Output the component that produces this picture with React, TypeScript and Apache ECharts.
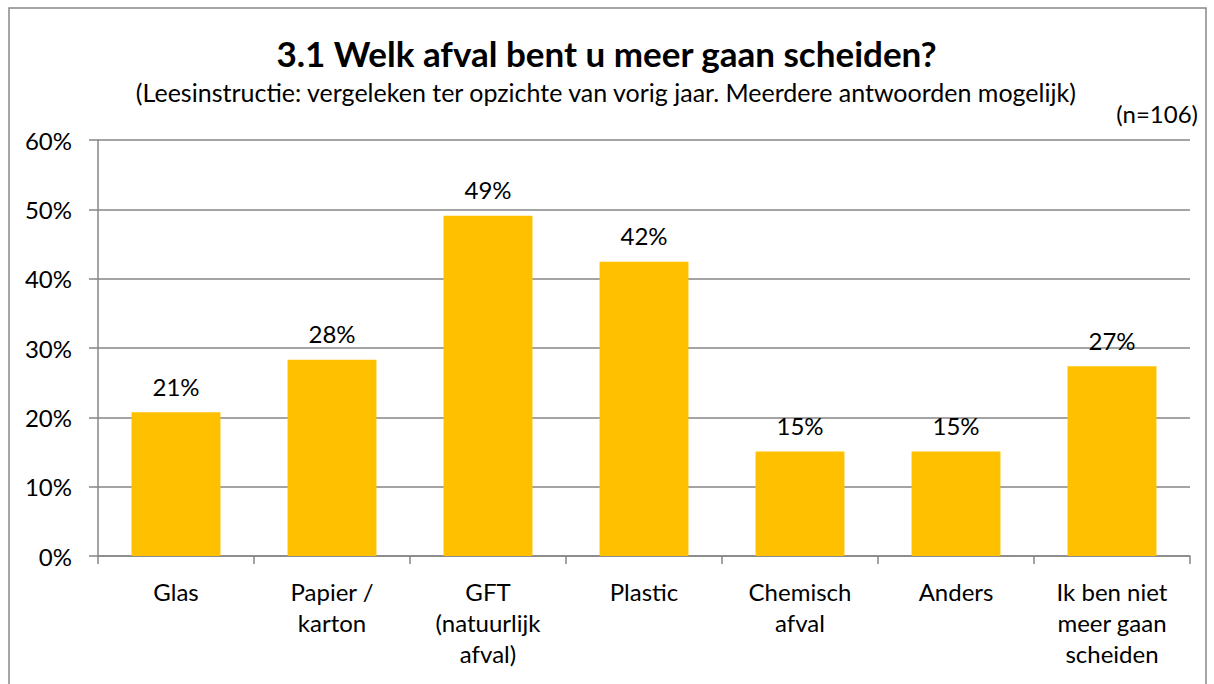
import React, { useEffect, useRef } from "react";
import * as echarts from "echarts";

const categories = [
  "Glas",
  "Papier /\nkarton",
  "GFT\n(natuurlijk\nafval)",
  "Plastic",
  "Chemisch\nafval",
  "Anders",
  "Ik ben niet\nmeer gaan\nscheiden",
];
const values = [20.75, 28.3, 49.06, 42.45, 15.09, 15.09, 27.36];
const yTicks = [0, 10, 20, 30, 40, 50, 60];

const FONT = "Lato";
const FS = 24;

export default function App() {
  const ref = useRef<HTMLDivElement>(null);
  useEffect(() => {
    if (!ref.current) return;
    const chart = echarts.init(ref.current, undefined, { renderer: "svg" });
    chart.setOption({
      animation: false,
      backgroundColor: "#ffffff",
      textStyle: { fontFamily: FONT },
      graphic: [
        {
          type: "rect",
          shape: { x: 9, y: 8, width: 1197, height: 700 },
          style: { fill: "none", stroke: "#888888", lineWidth: 1.5 },
          silent: true,
        },
        {
          type: "text",
          left: "center",
          top: 35,
          style: {
            text: "3.1 Welk afval bent u meer gaan scheiden?",
            fontSize: 35,
            fontWeight: "bold",
            fontFamily: FONT,
            fill: "#000000",
          },
        },
        {
          type: "text",
          left: "center",
          top: 79,
          style: {
            text: "(Leesinstructie: vergeleken ter opzichte van vorig jaar. Meerdere antwoorden mogelijk)",
            fontSize: 25,
            fontFamily: FONT,
            fill: "#000000",
          },
        },
        {
          type: "text",
          right: 16,
          top: 101,
          style: { text: "(n=106)", fontSize: FS, fontFamily: FONT, fill: "#000000" },
        },
      ],
      grid: { left: 98, right: 24, top: 140, bottom: 128, containLabel: false },
      xAxis: {
        type: "category",
        data: categories,
        axisLine: { show: true, lineStyle: { color: "#868686", width: 1.5 } },
        axisTick: { show: true, alignWithLabel: false, interval: 0, length: 8, lineStyle: { color: "#868686", width: 1.5 } },
        axisLabel: { interval: 0, margin: 20, fontSize: FS, lineHeight: 31, color: "#000000", fontFamily: FONT },
      },
      yAxis: {
        type: "value",
        min: 0,
        max: 60,
        interval: 10,
        axisLine: { show: true, lineStyle: { color: "#868686", width: 1.5 } },
        axisTick: { show: true, length: 9, lineStyle: { color: "#868686", width: 1.5 } },
        splitLine: { show: true, lineStyle: { color: "#868686", width: 1.5 } },
        axisLabel: {
          margin: 26,
          fontSize: FS,
          color: "#000000",
          fontFamily: FONT,
          formatter: (v: number) => (yTicks.includes(v) ? `${v}%` : ""),
        },
      },
      series: [
        {
          type: "bar",
          data: values,
          barCategoryGap: "43%",
          itemStyle: { color: "#FFC000" },
          label: {
            show: true,
            position: "top",
            distance: 14,
            fontSize: FS,
            color: "#000000",
            fontFamily: FONT,
            formatter: (p: any) => `${Math.round(p.value)}%`,
          },
        },
      ],
    });
    return () => chart.dispose();
  }, []);
  return <div ref={ref} style={{ width: 1214, height: 684, position: "absolute", left: 0, top: 0 }} />;
}
